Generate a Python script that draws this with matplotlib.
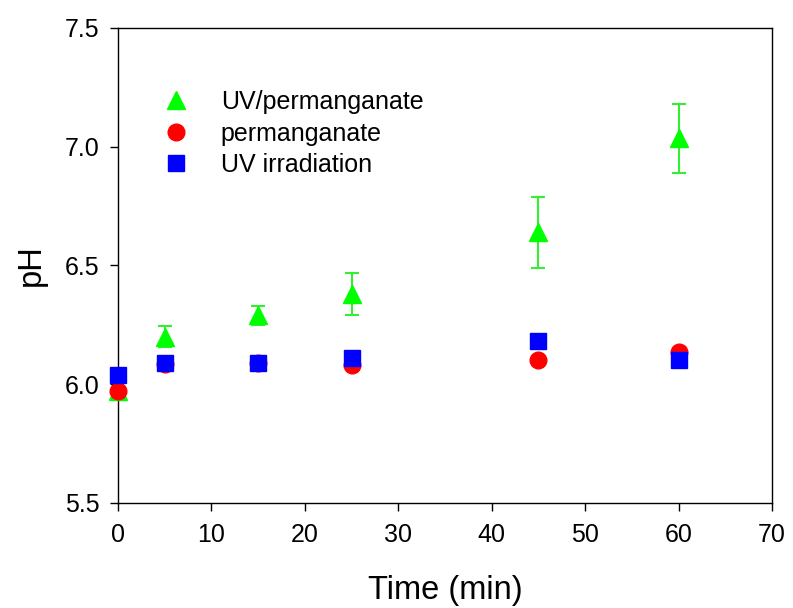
import matplotlib
matplotlib.use('Agg')
import matplotlib.pyplot as plt

plt.rcParams['font.family'] = ['Liberation Sans', 'DejaVu Sans']

time = [0, 5, 15, 25, 45, 60]
uv_perm = [5.97, 6.20, 6.29, 6.38, 6.64, 7.035]
uv_perm_err = [0.0, 0.045, 0.04, 0.09, 0.15, 0.145]
perm = [5.97, 6.085, 6.09, 6.08, 6.10, 6.135]
uv = [6.04, 6.09, 6.09, 6.11, 6.18, 6.10]

fig = plt.figure(figsize=(7.93, 6.08), dpi=100)
ax = fig.add_axes([0.1488, 0.1727, 0.8247, 0.7813])

# error bars first, markers on top
ax.errorbar(time, uv_perm, yerr=uv_perm_err, fmt='none', ecolor='#33ee33',
            capsize=5, elinewidth=1.5, capthick=1.5, zorder=2)
h1, = ax.plot(time, uv_perm, '^', color='#00ff00', markersize=13, label='UV/permanganate',
              clip_on=False, zorder=3)
h2, = ax.plot(time, perm, 'o', color='#ff0000', markersize=12, label='permanganate',
              clip_on=False, zorder=4)
h3, = ax.plot(time, uv, 's', color='#0000ff', markersize=11, label='UV irradiation',
              clip_on=False, zorder=5)

ax.set_xlim(0, 70)
ax.set_ylim(5.5, 7.5)
ax.set_xticks(range(0, 71, 10))
ax.set_yticks([5.5, 6.0, 6.5, 7.0, 7.5])
ax.set_yticklabels(['5.5', '6.0', '6.5', '7.0', '7.5'])
ax.tick_params(direction='out', length=5.5, width=1, labelsize=18)
ax.tick_params(axis='x', pad=9)
ax.tick_params(axis='y', pad=8)
for s in ax.spines.values():
    s.set_linewidth(1)

ax.set_xlabel('Time (min)', fontsize=23.5, labelpad=20)
ax.set_ylabel('pH', fontsize=23.5, labelpad=13)

ax.legend([h1, h2, h3], ['UV/permanganate', 'permanganate', 'UV irradiation'],
          loc='upper left', bbox_to_anchor=(0.054, 0.89), borderaxespad=0, frameon=False,
          fontsize=18, handletextpad=1.3, labelspacing=0.3, handlelength=1.0)

fig.savefig('out.png', dpi=100)
